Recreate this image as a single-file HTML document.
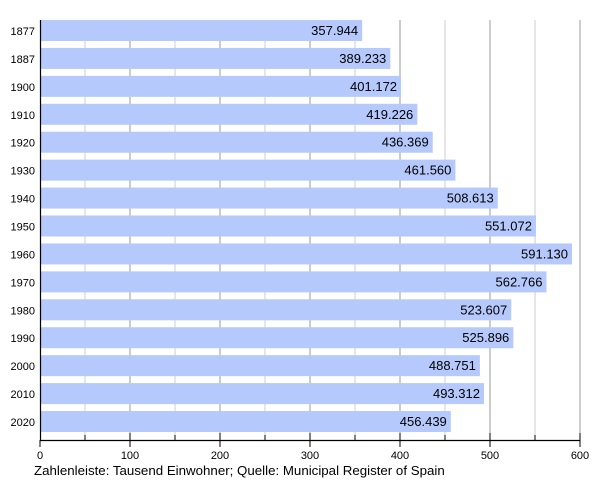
<!DOCTYPE html>
<html><head><meta charset="utf-8"><style>
html,body{margin:0;padding:0;background:#fff;}
svg{display:block;font-family:"Liberation Sans",sans-serif;}
</style></head><body>
<svg width="600" height="480" xmlns="http://www.w3.org/2000/svg">
<g id="grid"></g>
<g id="bars"></g>
<line x1="40.5" y1="20" x2="40.5" y2="440" stroke="#000" stroke-width="1.2"/>
<line x1="40" y1="440.5" x2="580" y2="440.5" stroke="#000" stroke-width="1.2"/>
<g id="ticks"></g>
<text x="34" y="475" font-size="13.3" fill="#000">Zahlenleiste: Tausend Einwohner; Quelle: Municipal Register of Spain</text>
<script>
var ns="http://www.w3.org/2000/svg";
function el(t,a,p,txt){var e=document.createElementNS(ns,t);for(var k in a)e.setAttribute(k,a[k]);if(txt!=null)e.textContent=txt;document.getElementById(p).appendChild(e);}
for(var v=50;v<=600;v+=50){var x=40+v*0.9;
 el('line',{x1:x,y1:20,x2:x,y2:440,stroke:(v%100==0)?'#999':'#ccc','stroke-width':1},'grid');
 el('line',{x1:x,y1:(v%100==0)?433:435,x2:x,y2:(v%100==0)?447:440,stroke:'#000','stroke-width':1},'ticks');}
el('line',{x1:40,y1:440,x2:40,y2:447,stroke:'#000','stroke-width':1},'ticks');
for(var v=0;v<=600;v+=100){el('text',{x:40+v*0.9,y:459,'font-size':11,'text-anchor':'middle'},'ticks',String(v));}
var d=[["1877",357.944],["1887",389.233],["1900",401.172],["1910",419.226],["1920",436.369],["1930",461.560],["1940",508.613],["1950",551.072],["1960",591.130],["1970",562.766],["1980",523.607],["1990",525.896],["2000",488.751],["2010",493.312],["2020",456.439]];
d.forEach(function(r,i){var y=20+i*27.93;var w=r[1]*0.9;
 el('rect',{x:41,y:y,width:w-1,height:21,fill:'#b5c9fd'},'bars');
 el('text',{x:40+w-4,y:y+15,'font-size':13,'text-anchor':'end',fill:'#000'},'bars',r[1].toFixed(3));
 el('text',{x:35,y:y+15,'font-size':11,'text-anchor':'end',fill:'#000'},'bars',r[0]);});
</script>
</svg>
</body></html>
